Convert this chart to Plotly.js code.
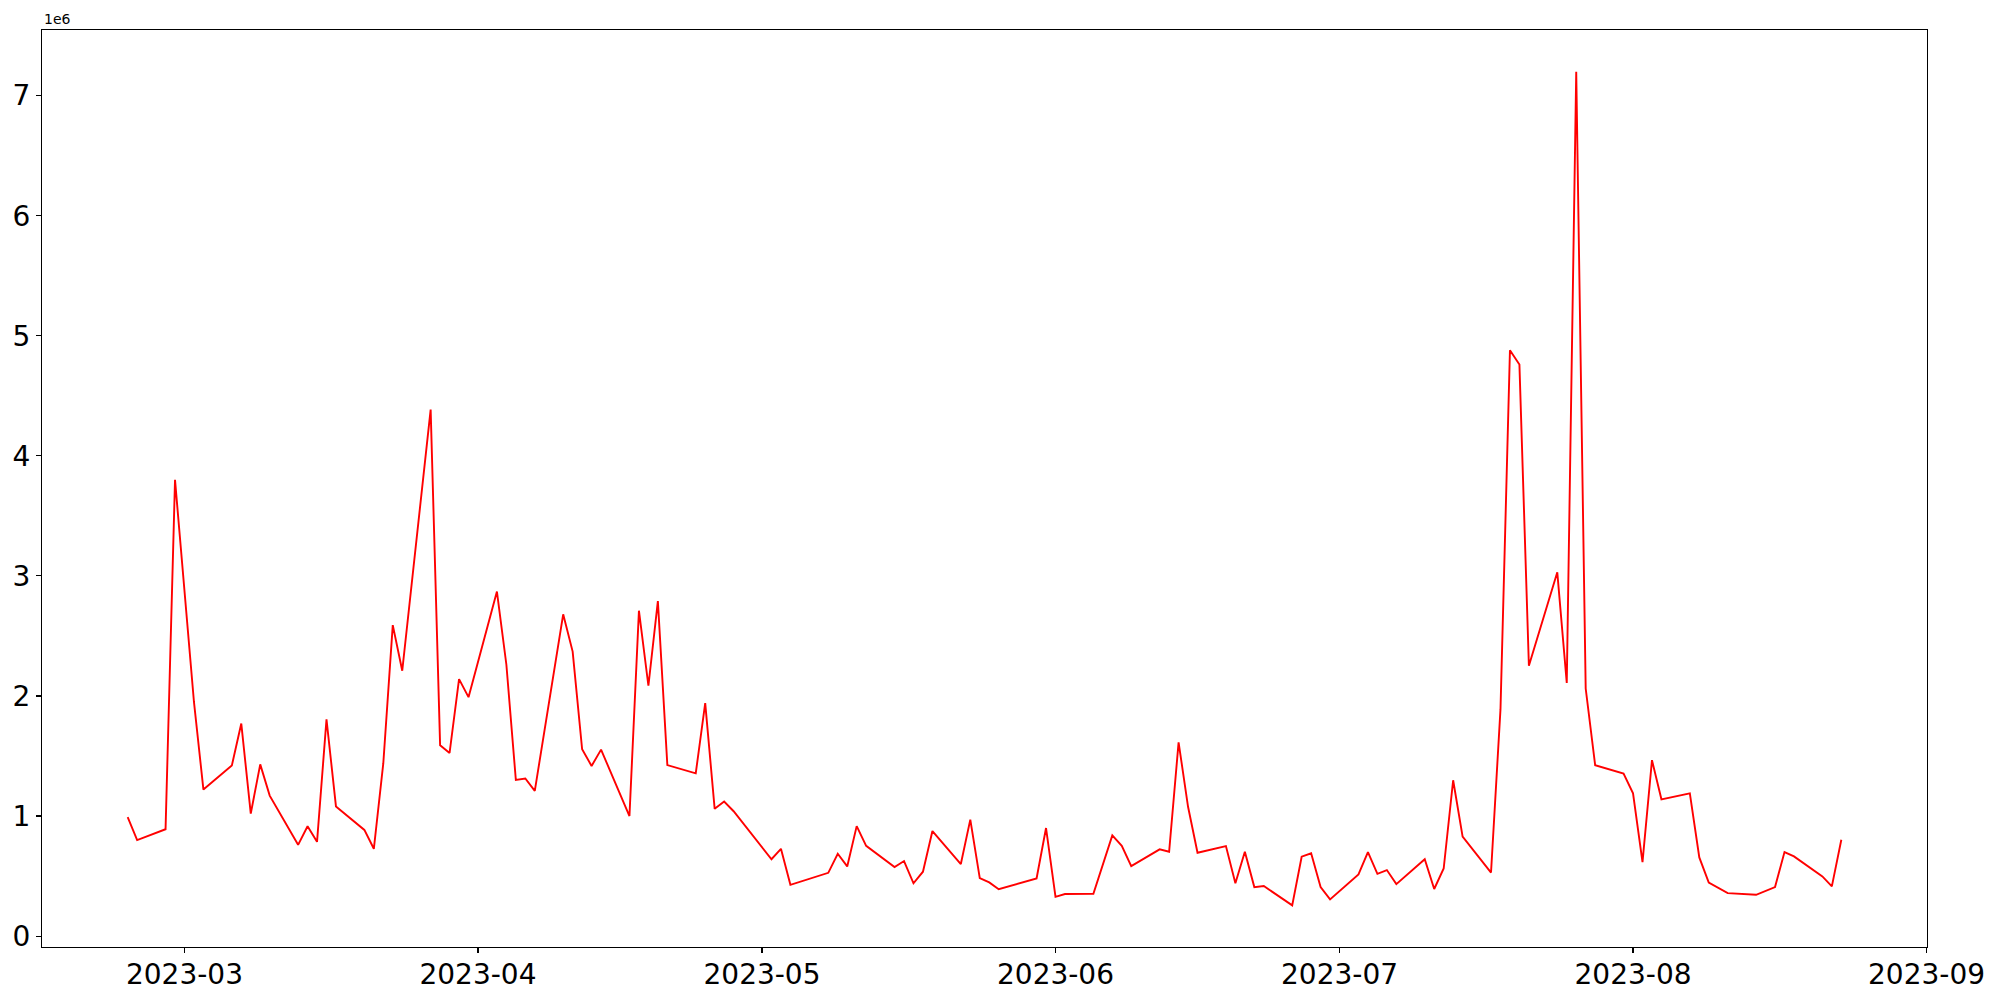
<!DOCTYPE html>
<html>
<head>
<meta charset="utf-8">
<script src="https://cdn.plot.ly/plotly-3.0.1.min.js"></script>
<style>html,body{margin:0;padding:0;background:#fff;}#chart{width:2000px;height:1000px;}</style>
</head>
<body>
<div id="chart"></div>
<script>
const dates = [
"2023-02-23","2023-02-24","2023-02-27","2023-02-28","2023-03-02","2023-03-03",
"2023-03-06","2023-03-07","2023-03-08","2023-03-09","2023-03-10",
"2023-03-13","2023-03-14","2023-03-15","2023-03-16","2023-03-17",
"2023-03-20","2023-03-21","2023-03-22","2023-03-23","2023-03-24",
"2023-03-27","2023-03-28","2023-03-29","2023-03-30","2023-03-31",
"2023-04-03","2023-04-04","2023-04-05","2023-04-06","2023-04-07",
"2023-04-10","2023-04-11","2023-04-12","2023-04-13","2023-04-14",
"2023-04-17","2023-04-18","2023-04-19","2023-04-20","2023-04-21",
"2023-04-24","2023-04-25","2023-04-26","2023-04-27","2023-04-28",
"2023-05-02","2023-05-03","2023-05-04",
"2023-05-08","2023-05-09","2023-05-10","2023-05-11","2023-05-12",
"2023-05-15","2023-05-16","2023-05-17","2023-05-18","2023-05-19",
"2023-05-22","2023-05-23","2023-05-24","2023-05-25","2023-05-26",
"2023-05-30","2023-05-31","2023-06-01","2023-06-02",
"2023-06-05","2023-06-07","2023-06-08","2023-06-09",
"2023-06-12","2023-06-13","2023-06-14","2023-06-15","2023-06-16",
"2023-06-19","2023-06-20","2023-06-21","2023-06-22","2023-06-23",
"2023-06-26","2023-06-27","2023-06-28","2023-06-29","2023-06-30",
"2023-07-03","2023-07-04","2023-07-05","2023-07-06","2023-07-07",
"2023-07-10","2023-07-11","2023-07-12","2023-07-13","2023-07-14",
"2023-07-17","2023-07-18","2023-07-19","2023-07-20","2023-07-21",
"2023-07-24","2023-07-25","2023-07-26","2023-07-27","2023-07-28",
"2023-07-31","2023-08-01","2023-08-02","2023-08-03","2023-08-04",
"2023-08-07","2023-08-08","2023-08-09","2023-08-11",
"2023-08-14","2023-08-16","2023-08-17","2023-08-18",
"2023-08-21","2023-08-22","2023-08-23"
];
const valuesMillions = [
0.99,0.80,0.89,3.80,1.95,1.22,
1.42,1.77,1.02,1.43,1.17,
0.76,0.915,0.785,1.805,1.08,
0.884,0.727,1.44,2.59,2.21,
4.385,1.59,1.525,2.14,1.99,
2.87,2.26,1.30,1.313,1.21,
2.68,2.37,1.556,1.417,1.553,
1.00,2.71,2.085,2.79,1.424,
1.355,1.94,1.06,1.12,1.04,
0.64,0.727,0.427,
0.527,0.686,0.58,0.916,0.752,
0.575,0.625,0.44,0.536,0.875,
0.60,0.97,0.483,0.447,0.39,
0.48,0.90,0.327,0.35,
0.352,0.839,0.752,0.583,
0.722,0.702,1.614,1.077,0.694,
0.75,0.44,0.702,0.408,0.417,
0.256,0.661,0.689,0.408,0.306,
0.514,0.70,0.519,0.55,0.433,
0.64,0.392,0.563,1.298,0.829,
0.529,1.888,4.879,4.76,2.252,
3.03,2.108,7.20,2.062,1.423,
1.353,1.189,0.616,1.465,1.139,
1.189,0.655,0.445,0.358,
0.344,0.408,0.70,0.664,
0.497,0.414,0.802
];
const xTickVals = ["2023-03-01","2023-04-01","2023-05-01","2023-06-01","2023-07-01","2023-08-01","2023-09-01"];
const xTickText = ["2023-03","2023-04","2023-05","2023-06","2023-07","2023-08","2023-09"];
const yTickVals = [0,1e6,2e6,3e6,4e6,5e6,6e6,7e6];
const yTickText = ["0","1","2","3","4","5","6","7"];

const values = valuesMillions.map(v => v * 1e6);

const trace = {
  x: dates, y: values, type: "scatter", mode: "lines",
  line: {color: "red", width: 1.9},
  hoverinfo: "x+y"
};
const font = "DejaVu Sans, sans-serif";
const layout = {
  width: 2000, height: 1000,
  margin: {l: 42, r: 73, t: 30, b: 53, pad: 0},
  paper_bgcolor: "#fff", plot_bgcolor: "#fff",
  showlegend: false,
  font: {family: font, color: "#000"},
  xaxis: {
    type: "date",
    range: ["2023-02-13 22:48", "2023-09-01 01:12"],
    tickvals: xTickVals, ticktext: xTickText,
    tickfont: {size: 28, family: font, color: "#000"},
    ticks: "outside", ticklen: 5, tickwidth: 1.1, tickcolor: "#000",
    ticklabelstandoff: -3,
    showline: true, linecolor: "#000", linewidth: 1.1, mirror: true,
    showgrid: false, zeroline: false
  },
  yaxis: {
    range: [-0.091e6, 7.547e6],
    tickvals: yTickVals, ticktext: yTickText,
    tickfont: {size: 28, family: font, color: "#000"},
    ticks: "outside", ticklen: 5, tickwidth: 1.1, tickcolor: "#000",
    showline: true, linecolor: "#000", linewidth: 1.1, mirror: true,
    showgrid: false, zeroline: false
  },
  annotations: [{
    text: "1e6", xref: "paper", yref: "paper", x: 0, y: 1,
    xanchor: "left", yanchor: "bottom", yshift: 1, showarrow: false,
    font: {size: 14, family: font, color: "#000"}
  }]
};
Plotly.newPlot("chart", [trace], layout, {staticPlot: true, displayModeBar: false});
</script>
</body>
</html>
